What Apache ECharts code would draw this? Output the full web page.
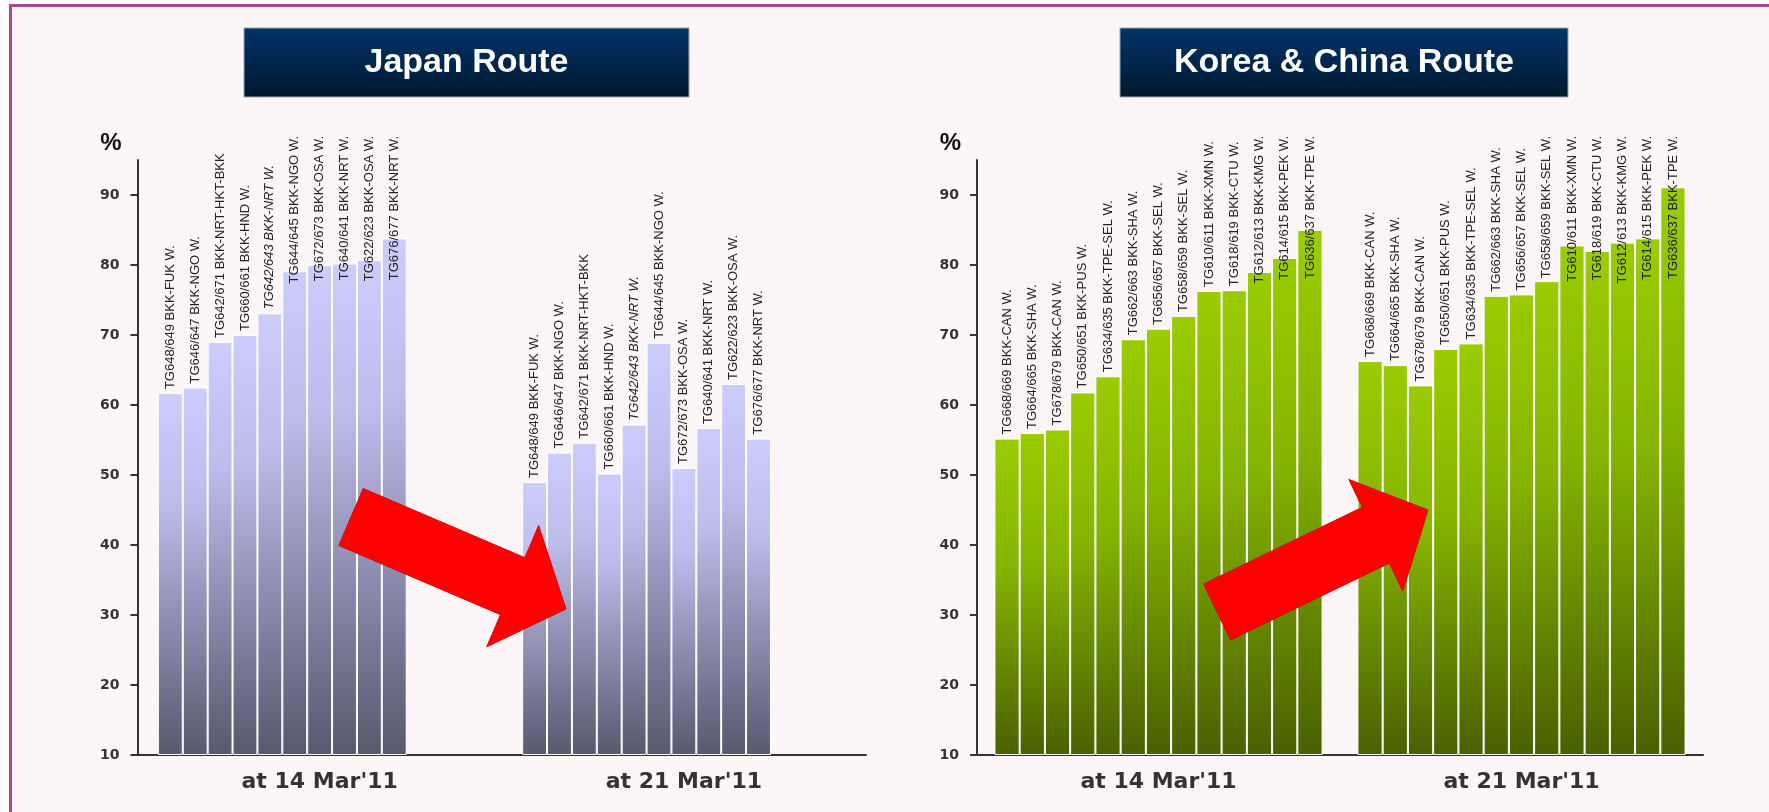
<!DOCTYPE html>
<html><head><meta charset="utf-8">
<script src="https://cdn.jsdelivr.net/npm/echarts@6/dist/echarts.min.js"></script>
<style>html,body{margin:0;padding:0;background:#fff;} #c{width:1769px;height:812px;}</style>
</head><body><div id="c"></div>
<script>
const categories = ["at 14 Mar'11", "at 21 Mar'11"];
const titles = ['Japan Route', 'Korea & China Route'];
const japanFlights = [
  'TG648/649 BKK-FUK W.', 'TG646/647 BKK-NGO W.', 'TG642/671 BKK-NRT-HKT-BKK',
  'TG660/661 BKK-HND W.', 'TG642/643 BKK-NRT W.', 'TG644/645 BKK-NGO W.',
  'TG672/673 BKK-OSA W.', 'TG640/641 BKK-NRT W.', 'TG622/623 BKK-OSA W.',
  'TG676/677 BKK-NRT W.'
];
const japan14 = [61.7, 62.5, 69.0, 70.0, 73.1, 79.1, 80.0, 80.2, 80.7, 83.8];
const japan21 = [49.0, 53.2, 54.6, 50.2, 57.2, 68.9, 51.0, 56.7, 63.0, 55.2];
const koreaFlights = [
  'TG668/669 BKK-CAN W.', 'TG664/665 BKK-SHA W.', 'TG678/679 BKK-CAN W.',
  'TG650/651 BKK-PUS W.', 'TG634/635 BKK-TPE-SEL W.', 'TG662/663 BKK-SHA W.',
  'TG656/657 BKK-SEL W.', 'TG658/659 BKK-SEL W.', 'TG610/611 BKK-XMN W.',
  'TG618/619 BKK-CTU W.', 'TG612/613 BKK-KMG W.', 'TG614/615 BKK-PEK W.',
  'TG636/637 BKK-TPE W.'
];
const korea14 = [55.2, 56.0, 56.5, 61.8, 64.1, 69.4, 70.9, 72.7, 76.3, 76.4, 79.0, 81.0, 85.0];
const korea21 = [66.3, 65.7, 62.8, 68.0, 68.8, 75.6, 75.8, 77.7, 82.8, 82.0, 83.2, 83.8, 91.1];
const yMin = 10, yMax = 95, yStep = 10;
const yName = '%';
const italicFlights = ['TG642/643 BKK-NRT W.'];
// Japan chart keeps 3 unused (empty) series slots, as in the original workbook
const japanEmptySlots = 3;

const CAP_Y = 136;
// labels are rotated 90deg: local -x points downward on screen
function capLayout(p) {
  const over = CAP_Y - p.labelRect.y;
  return over > 0 ? { dx: -over } : {};
}
const grad = (stops) => new echarts.graphic.LinearGradient(0, 0, 0, 1,
  stops.map((c) => ({ offset: c[0], color: c[1] })));
const japanFill = [[0, '#CDCDFD'], [0.3, '#BDBDEC'], [1, '#58586E']];
const koreaFill = [[0, '#9ACC00'], [0.4, '#86B500'], [1, '#486100']];

function makeSeries(flights, v14, v21, idx, fill, gap) {
  return flights.map((f, i) => ({
    type: 'bar', name: f, xAxisIndex: idx, yAxisIndex: idx,
    data: [v14[i], v21[i]],
    barGap: '0%', barCategoryGap: gap,
    itemStyle: { color: grad(fill), borderColor: '#ffffff', borderWidth: 1 },
    label: {
      show: true, position: 'top', rotate: 90, align: 'left', verticalAlign: 'middle',
      distance: 4, formatter: f, fontFamily: 'Liberation Sans', fontSize: 13, color: '#222',
      fontStyle: italicFlights.indexOf(f) >= 0 ? 'italic' : 'normal'
    },
    labelLayout: capLayout,
    animation: false
  }));
}
function emptySeries(n, idx, gap) {
  const out = [];
  for (let k = 0; k < n; k++) out.push({
    type: 'bar', name: 'empty' + k, xAxisIndex: idx, yAxisIndex: idx,
    data: [null, null], barGap: '0%', barCategoryGap: gap, animation: false
  });
  return out;
}

function arrowPoints(t, h, sw, hw, hl) {
  const dx = h[0] - t[0], dy = h[1] - t[1], L = Math.hypot(dx, dy);
  const ux = dx / L, uy = dy / L, nx = -uy, ny = ux;
  const b = [h[0] - ux * hl, h[1] - uy * hl];
  return [[t[0] + nx * sw, t[1] + ny * sw], [b[0] + nx * sw, b[1] + ny * sw],
          [b[0] + nx * hw, b[1] + ny * hw], h, [b[0] - nx * hw, b[1] - ny * hw],
          [b[0] - nx * sw, b[1] - ny * sw], [t[0] - nx * sw, t[1] - ny * sw]];
}

const axisLineStyle = { color: '#333', width: 2 };
function xAxis(idx) {
  return {
    type: 'category', gridIndex: idx, data: categories,
    axisLine: { lineStyle: axisLineStyle },
    axisTick: { length: 6, lineStyle: axisLineStyle },
    axisLabel: { margin: 16, fontFamily: 'DejaVu Sans', fontWeight: 'bold', fontSize: 22, color: '#333' }
  };
}
function yAxis(idx) {
  return {
    type: 'value', gridIndex: idx, min: yMin, max: yMax, interval: yStep, startValue: yMin,
    name: yName, nameLocation: 'end', nameGap: 5,
    nameTextStyle: { fontFamily: 'Liberation Sans', fontWeight: 'bold', fontSize: 24, color: '#111', align: 'right', padding: [0, 16, 0, 0] },
    splitLine: { show: false },
    axisLine: { show: true, lineStyle: axisLineStyle },
    axisTick: { show: true, length: 7, lineStyle: axisLineStyle },
    axisLabel: { margin: 18, fontFamily: 'DejaVu Sans', fontWeight: 'bold', fontSize: 14, color: '#333', showMaxLabel: false }
  };
}

function titleBox(x, w, text) {
  return [
    { type: 'rect', z: 20, shape: { x: x, y: 28, width: w, height: 69 },
      style: { fill: grad([[0, '#003468'], [0.5, '#00264d'], [1, '#001629']]), stroke: '#9aa6b4', lineWidth: 1 } },
    { type: 'text', z: 21, x: x + w / 2, y: 63,
      style: { text: text, fill: '#fff', font: 'bold 34px "Liberation Sans"', align: 'center', verticalAlign: 'middle' } }
  ];
}

const chart = echarts.init(document.getElementById('c'));
chart.setOption({
  backgroundColor: '#ffffff',
  animation: false,
  textStyle: { fontFamily: 'Liberation Sans' },
  grid: [
    { left: 137.5, right: 903, top: 160, bottom: 57 },
    { left: 977, right: 66, top: 160, bottom: 57 }
  ],
  xAxis: [xAxis(0), xAxis(1)],
  yAxis: [yAxis(0), yAxis(1)],
  series: [].concat(
    makeSeries(japanFlights, japan14, japan21, 0, japanFill, '11.2%'),
    emptySeries(japanEmptySlots, 0, '11.2%'),
    makeSeries(koreaFlights, korea14, korea21, 1, koreaFill, '9.6%')
  ),
  graphic: [
    { type: 'rect', z: -10, shape: { x: 10.5, y: 5.5, width: 2000, height: 1000 },
      style: { fill: '#FCF6F9', stroke: '#A94A85', lineWidth: 3 } },
    ...titleBox(244, 445, titles[0]),
    ...titleBox(1120, 448, titles[1]),
    { type: 'polygon', z: 30, shape: { points: arrowPoints([351, 517], [566, 609], 31, 66, 58) },
      style: { fill: '#FF0000', stroke: '#E00000', lineWidth: 1 } },
    { type: 'polygon', z: 30, shape: { points: arrowPoints([1217, 612], [1428, 510], 31, 62, 58) },
      style: { fill: '#FF0000', stroke: '#E00000', lineWidth: 1 } }
  ]
});
</script>
</body></html>
